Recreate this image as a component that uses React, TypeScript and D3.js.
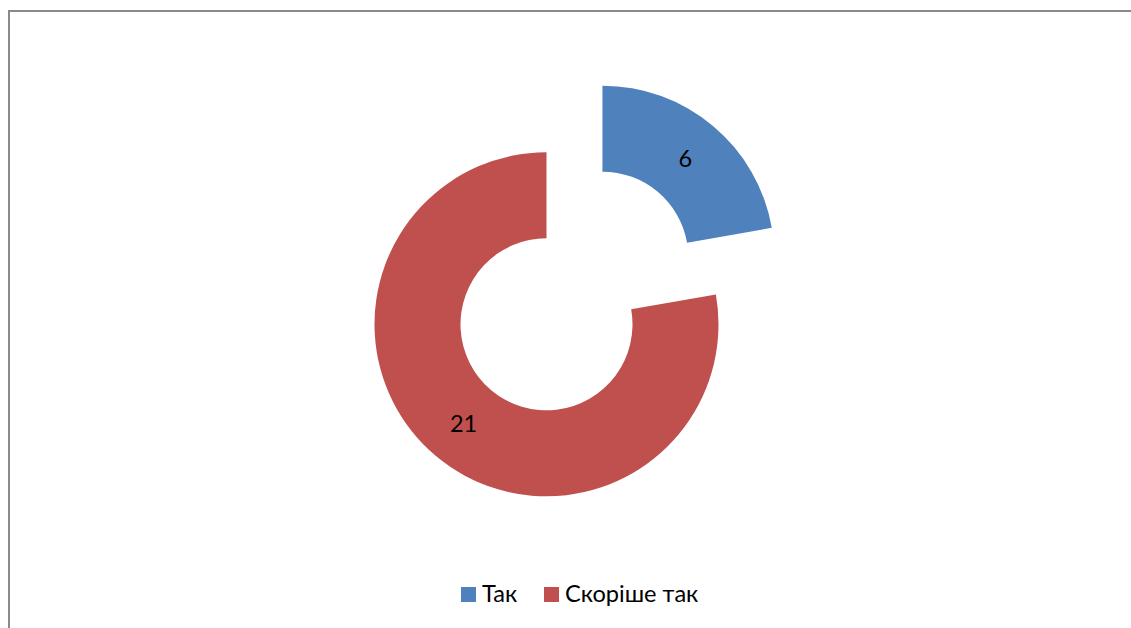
import * as d3 from "d3";
import { useEffect, useRef } from "react";

const categories = ["Так", "Скоріше так"];
const values = [6, 21];
const colors = ["#4F81BD", "#C0504D"];
const explodedIndex = 0;

const WIDTH = 1131;
const HEIGHT = 628;

export default function App() {
  const svgRef = useRef<SVGSVGElement | null>(null);

  useEffect(() => {
    const svg = d3.select(svgRef.current);
    svg.selectAll("*").remove();

    const cx = 546.5;
    const cy = 324.3;
    const outerR = 172;
    const innerR = 86;
    const explode = 87;
    const font = "Lato, 'Open Sans', sans-serif";

    // chart frame (only left and top edge show in the crop)
    svg
      .append("path")
      .attr("d", `M9,${HEIGHT} V11 H${WIDTH}`)
      .attr("fill", "none")
      .attr("stroke", "#8a8a8a")
      .attr("stroke-width", 2);

    const pie = d3
      .pie<number>()
      .sort(null)
      .value((d) => d)
      .startAngle(0)
      .endAngle(2 * Math.PI);

    const arc = d3
      .arc<d3.PieArcDatum<number>>()
      .innerRadius(innerR)
      .outerRadius(outerR);

    const arcs = pie(values);

    const g = svg.append("g").attr("transform", `translate(${cx},${cy})`);

    const slices = g
      .selectAll("g.slice")
      .data(arcs)
      .enter()
      .append("g")
      .attr("class", "slice")
      .attr("transform", (d, i) => {
        if (i !== explodedIndex) return null;
        const mid = (d.startAngle + d.endAngle) / 2;
        return `translate(${Math.sin(mid) * explode},${-Math.cos(mid) * explode})`;
      });

    slices
      .append("path")
      .attr("d", (d) => arc(d))
      .attr("fill", (d, i) => colors[i]);

    slices
      .append("text")
      .attr("transform", (d) => `translate(${arc.centroid(d)})`)
      .attr("text-anchor", "middle")
      .attr("dy", "0.36em")
      .attr("font-family", font)
      .attr("font-size", 23.5)
      .attr("fill", "#000")
      .text((d) => d.value);

    // legend
    const legend = svg.append("g").attr("transform", "translate(461,587)");
    const itemX = [0, 83];
    categories.forEach((c, i) => {
      const item = legend.append("g").attr("transform", `translate(${itemX[i]},0)`);
      item.append("rect").attr("width", 15).attr("height", 15).attr("fill", colors[i]);
      item
        .append("text")
        .attr("x", 21)
        .attr("y", 15)
        .attr("font-family", font)
        .attr("font-size", 23.6)
        .attr("fill", "#000")
        .text(c);
    });
  }, []);

  return (
    <svg
      ref={svgRef}
      width={WIDTH}
      height={HEIGHT}
      style={{ position: "absolute", left: 0, top: 0, background: "#fff" }}
    />
  );
}
